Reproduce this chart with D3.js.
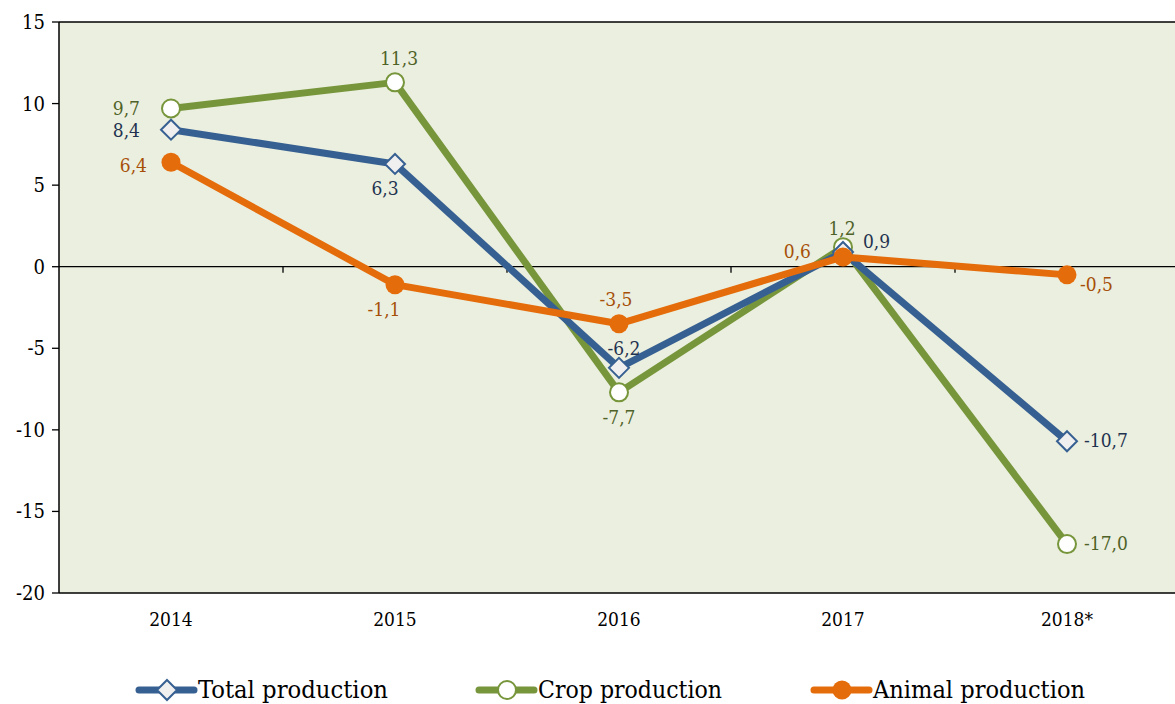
<!DOCTYPE html>
<html><head><meta charset="utf-8">
<script src="https://cdn.jsdelivr.net/npm/d3@7"></script>
<style>body{margin:0;background:#fff}svg{display:block}
text{font-family:"DejaVu Serif Condensed","DejaVu Serif",serif;font-stretch:condensed}</style>
</head><body>
<svg id="c" width="1175" height="704"></svg>
<script>
const years = ["2014","2015","2016","2017","2018*"];
const totalProduction = [8.4, 6.3, -6.2, 0.9, -10.7];
const cropProduction = [9.7, 11.3, -7.7, 1.2, -17.0];
const animalProduction = [6.4, -1.1, -3.5, 0.6, -0.5];
const yTicks = [15, 10, 5, 0, -5, -10, -15, -20];
const seriesNames = ["Total production", "Crop production", "Animal production"];

// label placement per point: [anchor, dx, dy]
const totalPos = [["end",-31,7],["middle",-10,31],["middle",5,-13],["start",20,-4],["start",17,6]];
const cropPos = [["end",-31,7],["middle",4,-17],["middle",0,32],["middle",-1,-12],["start",17,6]];
const animalPos = [["end",-24,10],["middle",-11,31],["middle",-3,-18],["end",-32,1],["start",13,16]];

const svg = d3.select("#c");
const L = 59, R = 1179, T = 22, B = 593;
const x = d3.scaleBand().domain(years).range([L, R]).padding(0);
const y = d3.scaleLinear().domain([-20, 15]).range([B, T]);
const cx = d => x(d) + x.bandwidth()/2;

svg.append("rect").attr("x", L).attr("y", T).attr("width", R - L).attr("height", B - T).attr("fill", "#EBEFDF");

svg.append("line").attr("x1", L).attr("x2", R).attr("y1", y(0)).attr("y2", y(0)).attr("stroke", "#000").attr("stroke-width", 1.3);
years.slice(1).forEach(yr => {
  svg.append("line").attr("x1", x(yr)).attr("x2", x(yr)).attr("y1", y(0)).attr("y2", y(0) + 6).attr("stroke", "#000").attr("stroke-width", 1.3);
});
svg.append("line").attr("x1", L).attr("x2", R).attr("y1", T).attr("y2", T).attr("stroke", "#000").attr("stroke-width", 1.3);
svg.append("line").attr("x1", L).attr("x2", R).attr("y1", B).attr("y2", B).attr("stroke", "#000").attr("stroke-width", 1.3);
svg.append("line").attr("x1", L).attr("x2", L).attr("y1", T).attr("y2", B).attr("stroke", "#000").attr("stroke-width", 1.5);

yTicks.forEach(t => {
  svg.append("line").attr("x1", L - 7).attr("x2", L).attr("y1", y(t)).attr("y2", y(t)).attr("stroke", "#000").attr("stroke-width", 1.3);
  svg.append("text").attr("x", 45).attr("y", y(t)).attr("dy", "0.35em").attr("text-anchor", "end")
    .attr("font-size", 20).attr("fill", "#000").text(t);
});
years.forEach(yr => {
  svg.append("text").attr("x", cx(yr)).attr("y", 626).attr("text-anchor", "middle")
    .attr("font-size", 19).attr("fill", "#000").text(yr);
});

const series = [
  {name: seriesNames[0], vals: totalProduction, color: "#376092", lab: "#1F3350", pos: totalPos, marker: "diamond"},
  {name: seriesNames[1], vals: cropProduction, color: "#77963B", lab: "#4F6228", pos: cropPos, marker: "open"},
  {name: seriesNames[2], vals: animalProduction, color: "#E56C0A", lab: "#A64F08", pos: animalPos, marker: "filled"}
];

const line = d3.line().x((d, i) => cx(years[i])).y(d => y(d));
const drawOrder = [series[1], series[0], series[2]];
drawOrder.forEach(s => {
  svg.append("path").attr("d", line(s.vals)).attr("fill", "none").attr("stroke", s.color).attr("stroke-width", 7).attr("stroke-linejoin", "round");
});

function marker(g, type, px, py, color) {
  if (type === "diamond") {
    const r = 10;
    g.append("path").attr("d", `M${px},${py - r}L${px + r},${py}L${px},${py + r}L${px - r},${py}Z`)
      .attr("fill", "#EFEFEF").attr("stroke", color).attr("stroke-width", 2);
  } else if (type === "open") {
    g.append("circle").attr("cx", px).attr("cy", py).attr("r", 9).attr("fill", "#fff").attr("stroke", color).attr("stroke-width", 2);
  } else {
    g.append("circle").attr("cx", px).attr("cy", py).attr("r", 9.5).attr("fill", color);
  }
}
drawOrder.forEach(s => {
  s.vals.forEach((v, i) => marker(svg, s.marker, cx(years[i]), y(v), s.color));
});

const fmt = v => v.toFixed(1).replace(".", ",");
series.forEach(s => {
  s.vals.forEach((v, i) => {
    const p = s.pos[i];
    svg.append("text").attr("x", cx(years[i]) + p[1]).attr("y", y(v) + p[2]).attr("text-anchor", p[0])
      .attr("font-size", 19).attr("fill", s.lab).text(fmt(v));
  });
});

// legend
const legX = [137, 477, 812];
const legW = [190, 184, 212];
series.forEach((s, i) => {
  const g = svg.append("g");
  g.append("line").attr("x1", legX[i] + 2).attr("x2", legX[i] + 57).attr("y1", 690).attr("y2", 690)
    .attr("stroke", s.color).attr("stroke-width", 7).attr("stroke-linecap", "round");
  marker(g, s.marker, legX[i] + 30, 690, s.color);
  g.append("text").attr("x", legX[i] + 61).attr("y", 698).attr("font-size", 25)
    .attr("textLength", legW[i]).attr("lengthAdjust", "spacingAndGlyphs").attr("fill", "#000").text(s.name);
});
</script>
</body></html>
